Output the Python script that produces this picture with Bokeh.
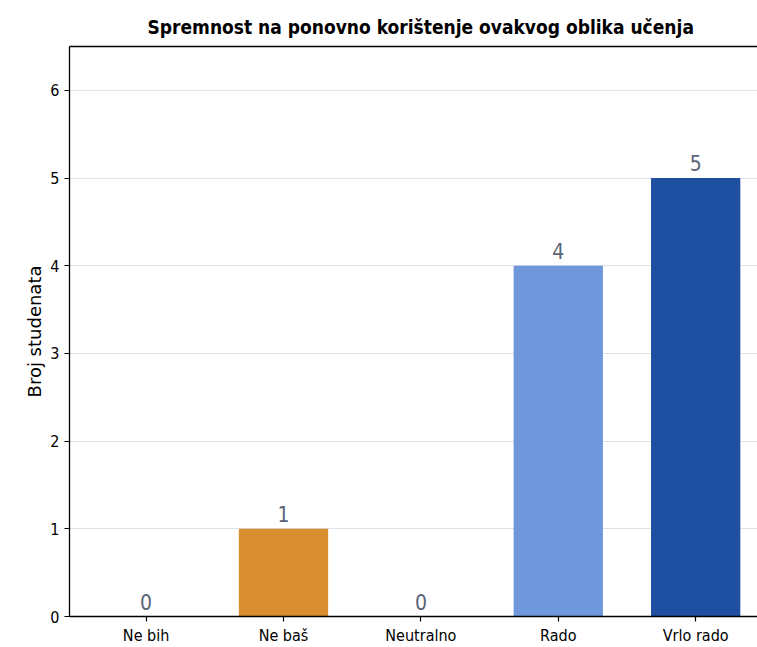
from bokeh.plotting import figure
from bokeh.models import Range1d, FixedTicker, LinearAxis, ColumnDataSource, Title
from bokeh.core.properties import value
from bokeh.embed import file_html
from bokeh.resources import INLINE

categories = ["Ne bih", "Ne baš", "Neutralno", "Rado", "Vrlo rado"]
counts = [0, 1, 0, 4, 5]
bar_colors = ["#c9c9c9", "#d98e32", "#c9c9c9", "#6f97db", "#1f4fa0"]
y_ticks = [0, 1, 2, 3, 4, 5, 6]

xs = list(range(len(categories)))
src = ColumnDataSource(dict(x=xs, top=counts, color=bar_colors,
                            label=[str(c) for c in counts]))

COND = "DejaVu Sans Condensed"

p = figure(width=757, height=647, output_backend="svg", toolbar_location=None,
           x_range=Range1d(-0.5575, 4.45), y_range=Range1d(0, 6.5),
           min_border_left=69, min_border_right=0, min_border_top=46,
           min_border_bottom=29, outline_line_color=None,
           background_fill_color="white", border_fill_color="white")

bottom_axis = p.below[0]
left_axis = p.left[0]

bottom_axis.ticker = FixedTicker(ticks=xs)
bottom_axis.major_label_overrides = {i: c for i, c in zip(xs, categories)}
left_axis.ticker = FixedTicker(ticks=y_ticks)
left_axis.axis_label = "Broj studenata"
left_axis.axis_label_text_font = "DejaVu Sans"
left_axis.axis_label_text_font_size = "18px"
left_axis.axis_label_text_font_style = "normal"
left_axis.axis_label_text_color = "black"
left_axis.axis_label_standoff = 2

for ax in (bottom_axis, left_axis):
    ax.axis_line_color = "black"
    ax.axis_line_width = 1.3
    ax.major_tick_line_color = "black"
    ax.major_tick_line_width = 1.2
    ax.major_tick_out = 5
    ax.major_tick_in = 0
    ax.minor_tick_line_color = None
    ax.major_label_standoff = 5
    ax.major_label_text_font = COND
    ax.major_label_text_font_size = "16px"
    ax.major_label_text_color = "black"
bottom_axis.major_label_standoff = 4

top_axis = LinearAxis(ticker=FixedTicker(ticks=[]), axis_line_color="black",
                      axis_line_width=1.3, major_tick_line_color=None,
                      minor_tick_line_color=None, major_label_text_font_size="0px",
                      major_label_standoff=0, major_tick_out=0, major_tick_in=0)
p.add_layout(top_axis, "above")

p.add_layout(Title(text="Spremnost na ponovno korištenje ovakvog oblika učenja",
                   text_font=COND, text_font_size="19px", text_font_style="bold",
                   text_color="black", align="left", offset=78, standoff=18), "above")

p.vbar(x="x", top="top", bottom=0, width=0.65, fill_color="color",
       line_color=None, source=src)
p.text(x="x", y="top", text="label", source=src, text_align="center",
       text_baseline="bottom", y_offset=-7, text_font=value(COND),
       text_font_size="21px", text_color="#5b6477")

p.xgrid.grid_line_color = None
p.ygrid.grid_line_color = "#dde3ec"
p.ygrid.grid_line_width = 1.2
p.ygrid.ticker = FixedTicker(ticks=y_ticks)

open("out.html", "w").write(file_html(p, INLINE))
